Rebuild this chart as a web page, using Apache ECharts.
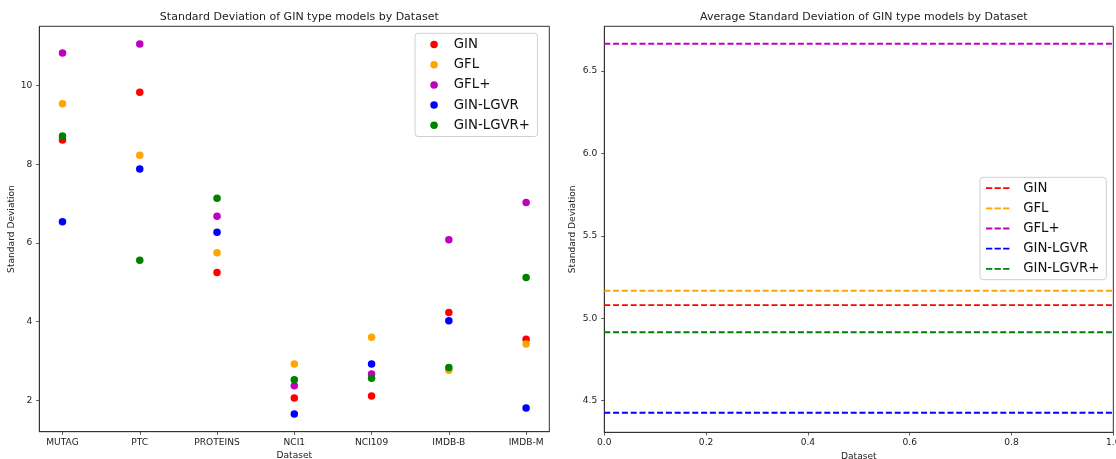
<!DOCTYPE html>
<html>
<head>
<meta charset="utf-8">
<script src="https://cdn.jsdelivr.net/npm/echarts@6/dist/echarts.min.js"></script>
<style>
  html, body { margin: 0; padding: 0; background: #fff; }
  #main { width: 1116px; height: 459px; }
</style>
</head>
<body>
<div id="main"></div>
<script>
const datasets = ['MUTAG', 'PTC', 'PROTEINS', 'NCI1', 'NCI109', 'IMDB-B', 'IMDB-M'];
const models = ['GIN', 'GFL', 'GFL+', 'GIN-LGVR', 'GIN-LGVR+'];
const colors = ['#ff0000', '#ffa500', '#bf00bf', '#0000ff', '#008000'];

// std per dataset, one array per model
const ginStd = [8.62, 9.83, 5.25, 2.06, 2.11, 4.23, 3.55];
const gflStd = [9.54, 8.23, 5.75, 2.92, 3.60, 2.76, 3.43];
const gflPlusStd = [10.83, 11.06, 6.68, 2.37, 2.67, 6.08, 7.03];
const lgvrStd = [6.54, 7.88, 6.27, 1.65, 2.92, 4.02, 1.80];
const lgvrPlusStd = [8.72, 5.56, 7.14, 2.52, 2.56, 2.83, 5.12];

// averages (right plot), same model order
const avgStd = [5.08, 5.167, 6.666, 4.427, 4.915];

const leftYTicks = [2, 4, 6, 8, 10];
const rightYTicks = [4.5, 5.0, 5.5, 6.0, 6.5];

const stdByModel = [ginStd, gflStd, gflPlusStd, lgvrStd, lgvrPlusStd];
const font = 'DejaVu Sans';
const dashIcon = 'path://M0,0h7v2h-7zM9.5,0h7v2h-7zM19,0h7v2h-7z';

const axisBase = {
  axisLine: { show: true, onZero: false, lineStyle: { color: '#333', width: 1 } },
  axisTick: { show: true, length: 3.2, lineStyle: { color: '#333', width: 0.8 } },
  splitLine: { show: false },
  nameLocation: 'middle',
  nameTextStyle: { color: '#222', fontSize: 9.1, fontFamily: font }
};
const labelBase = { color: '#222', fontSize: 9.1, fontFamily: font };

const myChart = echarts.init(document.getElementById('main'));
const option = {
  animation: false,
  backgroundColor: '#fff',
  title: [
    {
      text: 'Standard Deviation of GIN type models by Dataset',
      left: 294.3, top: 6.5, textAlign: 'center',
      textStyle: { fontSize: 11, fontWeight: 'normal', color: '#222', fontFamily: font }
    },
    {
      text: 'Average Standard Deviation of GIN type models by Dataset',
      left: 858.8, top: 6.5, textAlign: 'center',
      textStyle: { fontSize: 11, fontWeight: 'normal', color: '#222', fontFamily: font }
    }
  ],
  grid: [
    {
      left: 39.3, top: 26.3, width: 510, height: 405.4, outerBoundsMode: 'none',
      show: true, borderColor: '#333', borderWidth: 1
    },
    {
      left: 604.3, top: 26.3, width: 509, height: 406, outerBoundsMode: 'none',
      show: true, borderColor: '#333', borderWidth: 1
    }
  ],
  legend: [
    {
      data: models.map((m) => ({ name: m, icon: 'circle' })),
      orient: 'vertical',
      left: 415, top: 33.3,
      itemWidth: 7.5, itemHeight: 7.5, itemGap: 6.2,
      padding: [4.2, 7.5, 4.2, 15.3],
      borderColor: '#d0d0d0', borderWidth: 1, borderRadius: 3,
      backgroundColor: 'rgba(255,255,255,0.8)',
      textStyle: { fontSize: 13.3, lineHeight: 14, color: '#111', fontFamily: font, padding: [0, 0, 0, 11] }
    },
    {
      data: models.map((m) => ({ name: m, icon: dashIcon })),
      orient: 'vertical',
      left: 980, top: 177.3,
      itemWidth: 25.7, itemHeight: 1.8, itemGap: 6.2,
      padding: [3.8, 7, 3.8, 6],
      borderColor: '#d0d0d0', borderWidth: 1, borderRadius: 3,
      backgroundColor: 'rgba(255,255,255,0.8)',
      textStyle: { fontSize: 13.3, lineHeight: 14, color: '#111', fontFamily: font, padding: [0, 0, 0, 7.6] }
    }
  ],
  xAxis: [
    {
      ...axisBase,
      gridIndex: 0,
      type: 'value',
      min: -0.3, max: 6.3,
      name: 'Dataset', nameGap: 18.8,
      axisTick: { ...axisBase.axisTick, customValues: datasets.map((d, i) => i) },
      axisLabel: {
        ...labelBase, margin: 6,
        customValues: datasets.map((d, i) => i),
        formatter: (v) => datasets[Math.round(v)]
      }
    },
    {
      ...axisBase,
      gridIndex: 1,
      type: 'value',
      min: 0, max: 1, interval: 0.2,
      name: 'Dataset', nameGap: 18.8,
      axisLabel: { ...labelBase, margin: 6, formatter: (v) => v.toFixed(1) }
    }
  ],
  yAxis: [
    {
      ...axisBase,
      gridIndex: 0,
      type: 'value',
      min: 1.2, max: 11.51,
      name: 'Standard Deviation', nameGap: 23,
      axisTick: { ...axisBase.axisTick, customValues: leftYTicks },
      axisLabel: { ...labelBase, margin: 7, customValues: leftYTicks }
    },
    {
      ...axisBase,
      gridIndex: 1,
      type: 'value',
      min: 4.308, max: 6.772,
      name: 'Standard Deviation', nameGap: 27,
      axisTick: { ...axisBase.axisTick, customValues: rightYTicks },
      axisLabel: { ...labelBase, margin: 7, customValues: rightYTicks, formatter: (v) => v.toFixed(1) }
    }
  ],
  series: [
    ...models.map((m, i) => ({
      name: m,
      type: 'scatter',
      xAxisIndex: 0,
      yAxisIndex: 0,
      symbolSize: 7.5,
      z: 2 + i,
      itemStyle: { color: colors[i], opacity: 1 },
      emphasis: { disabled: true },
      data: stdByModel[i].map((v, j) => [j, v])
    })),
    ...models.map((m, i) => ({
      name: m,
      type: 'line',
      xAxisIndex: 1,
      yAxisIndex: 1,
      symbol: 'none',
      z: 2 + i,
      itemStyle: { color: colors[i] },
      lineStyle: { color: colors[i], width: 1.9, type: [6, 2.8] },
      emphasis: { disabled: true },
      data: [[0, avgStd[i]], [1, avgStd[i]]]
    }))
  ]
};
myChart.setOption(option);
</script>
</body>
</html>
